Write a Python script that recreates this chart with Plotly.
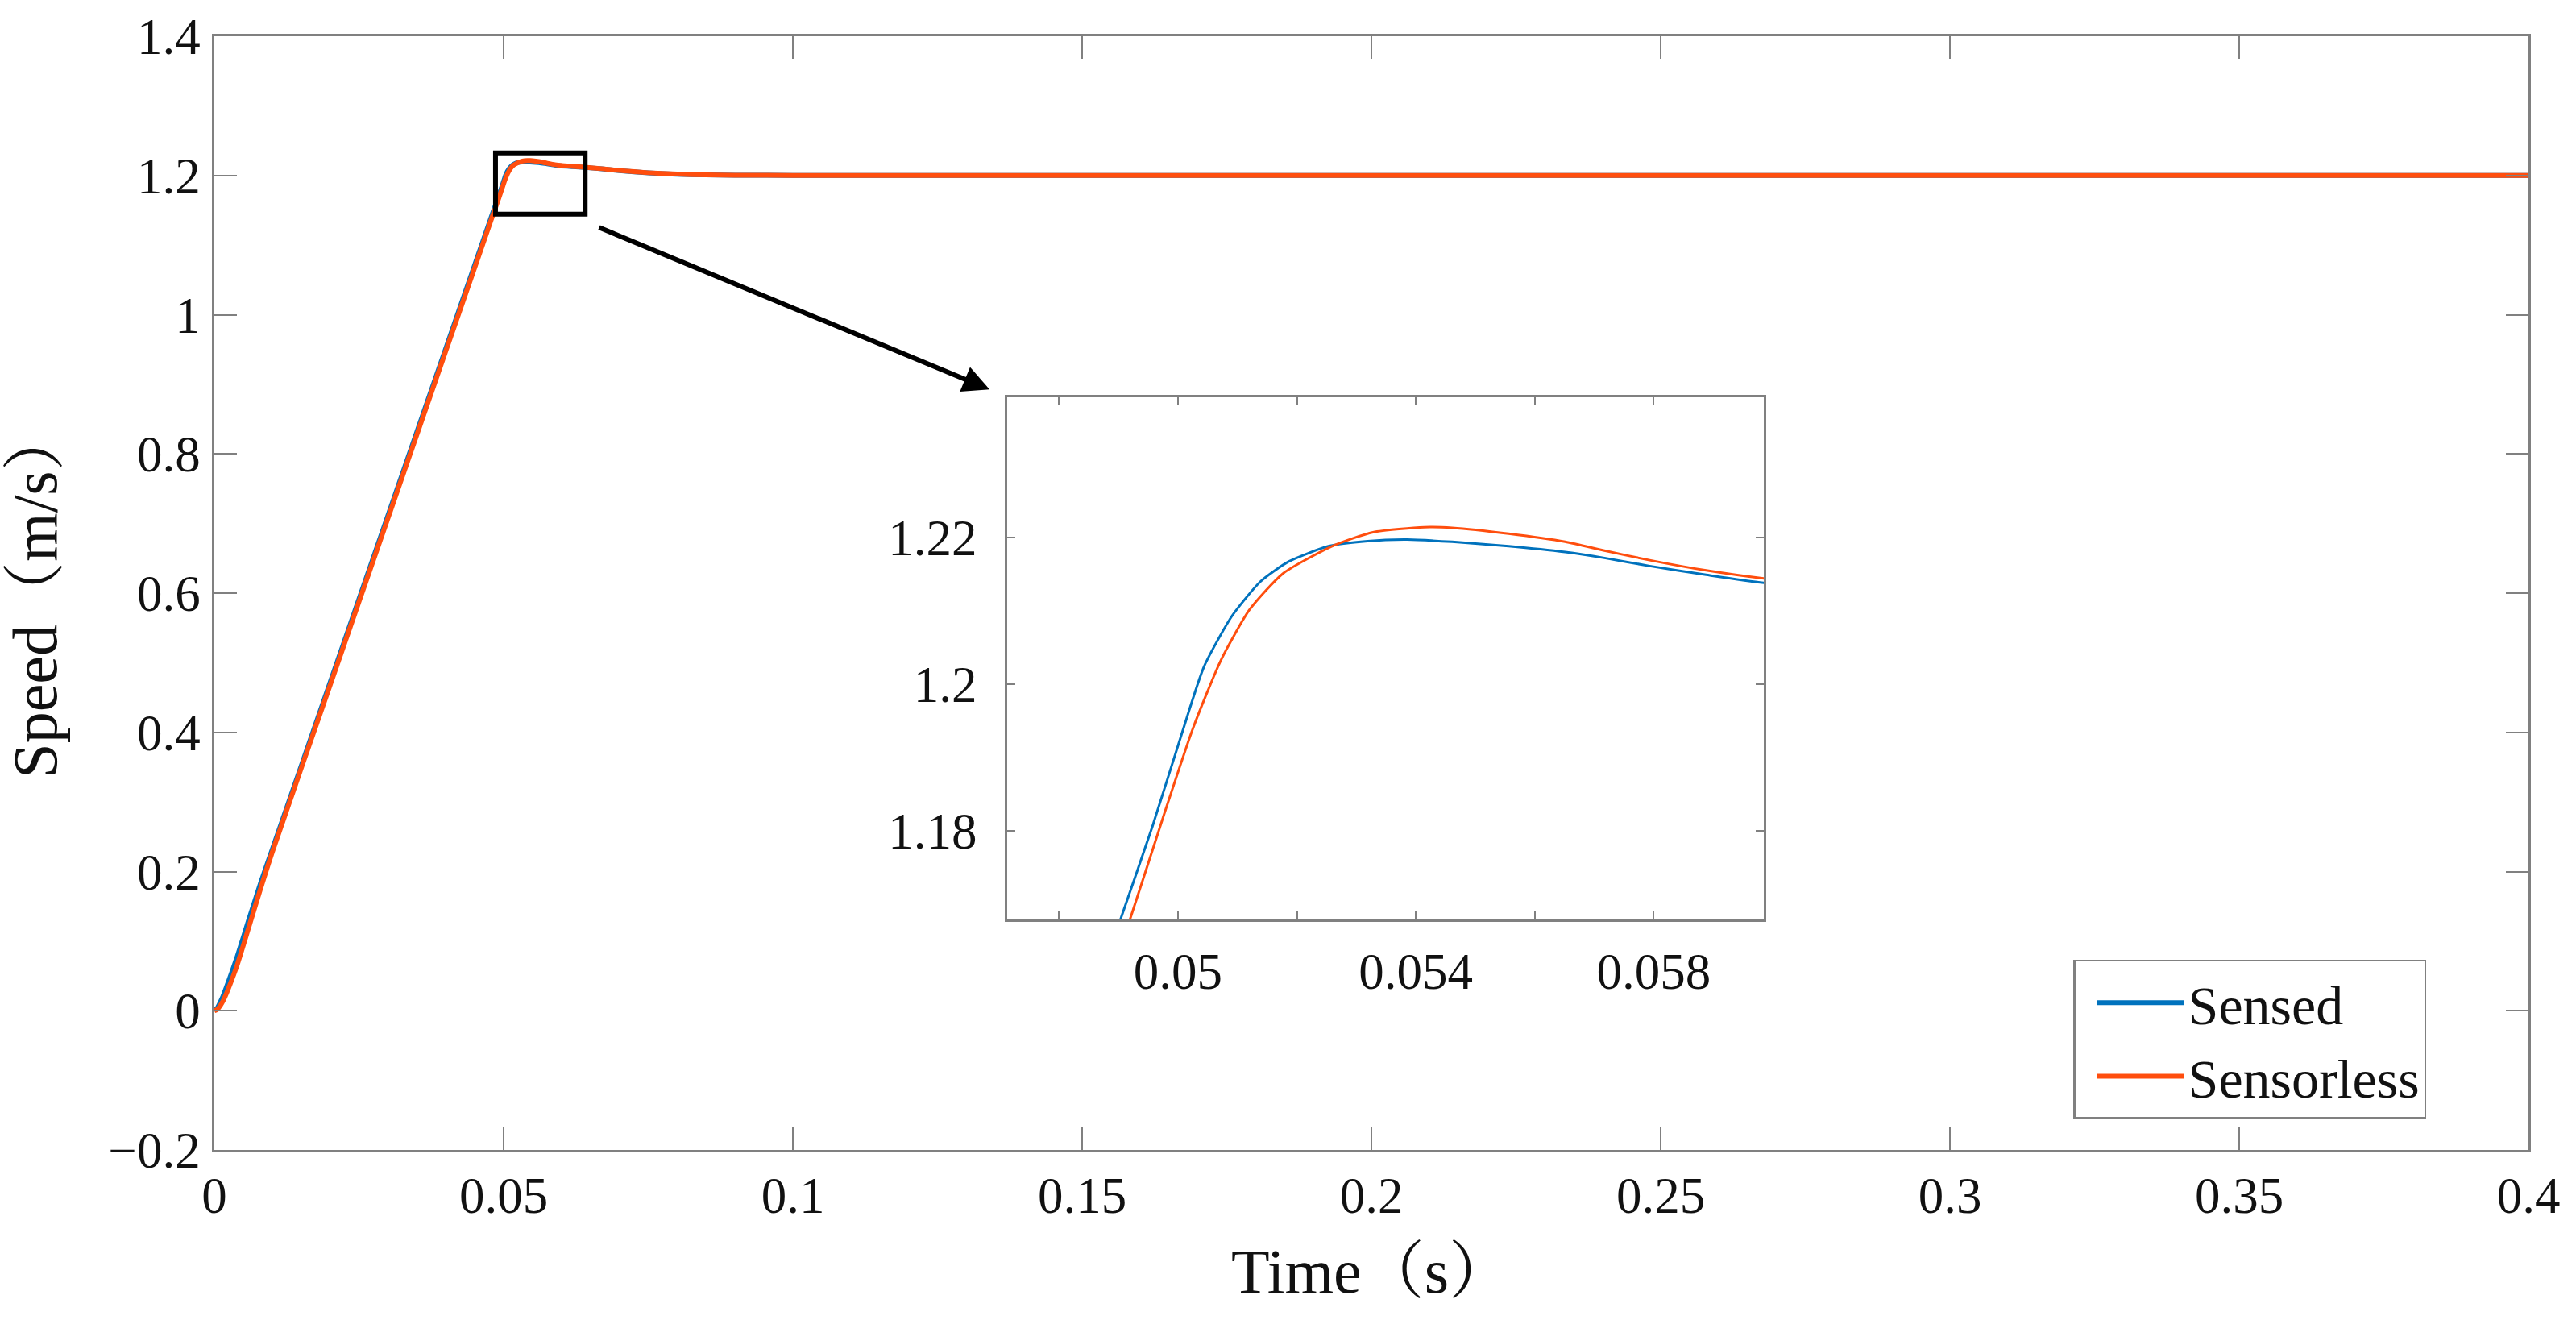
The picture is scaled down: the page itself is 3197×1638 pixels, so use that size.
import plotly.graph_objects as go

# ---------------- data ----------------
time_s = [0, 0.0005, 0.001, 0.0015, 0.002, 0.003, 0.004, 0.006, 0.008, 0.01, 0.02, 0.03, 0.04, 0.045, 0.048,
          0.04903, 0.04958, 0.05006, 0.05044, 0.05091, 0.05139, 0.05186, 0.05253, 0.05319, 0.05385,
          0.05461, 0.05556, 0.05651, 0.05717, 0.05793, 0.05888, 0.05986,
          0.062, 0.064, 0.067, 0.07, 0.075, 0.08, 0.085, 0.09, 0.1, 0.15, 0.2, 0.25, 0.3, 0.35, 0.4]
sensed = [0, 0.004, 0.012, 0.021, 0.032, 0.055, 0.079, 0.132, 0.1835, 0.2315, 0.4715, 0.7115, 0.9515, 1.0715, 1.1435,
          1.1678, 1.1808, 1.1931, 1.2024, 1.2093, 1.2140, 1.2167, 1.2188, 1.2195, 1.2197,
          1.2194, 1.2188, 1.2180, 1.2172, 1.2161, 1.2149, 1.2138,
          1.2126, 1.2116, 1.2095, 1.2070, 1.2038, 1.2018, 1.2008, 1.2003, 1.2001, 1.2, 1.2, 1.2, 1.2, 1.2, 1.2]

time_s2 = [0, 0.0005, 0.001, 0.0015, 0.002, 0.003, 0.004, 0.006, 0.008, 0.01, 0.02, 0.03, 0.04, 0.045, 0.048,
           0.04919, 0.04977, 0.05025, 0.05072, 0.05120, 0.05177, 0.05262, 0.05328, 0.05414,
           0.05461, 0.05556, 0.05651, 0.05717, 0.05793, 0.05888, 0.05986,
           0.062, 0.064, 0.067, 0.07, 0.075, 0.08, 0.085, 0.09, 0.1, 0.15, 0.2, 0.25, 0.3, 0.35, 0.4]
sensorless = [0, 0.002, 0.007, 0.014, 0.023, 0.044, 0.067, 0.121, 0.1755, 0.2275, 0.4675, 0.7075, 0.9475, 1.0675, 1.1397,
              1.1678, 1.1823, 1.1939, 1.2032, 1.2101, 1.2151, 1.2189, 1.2207, 1.2214,
              1.2213, 1.2205, 1.2194, 1.2182, 1.2169, 1.2155, 1.2144,
              1.2130, 1.2118, 1.2097, 1.2071, 1.2039, 1.2019, 1.2008, 1.2003, 1.2001, 1.2, 1.2, 1.2, 1.2, 1.2, 1.2]

series_names = ["Sensed", "Sensorless"]
series_colors = ["#0072BD", "#FF4E0E"]

x_tickvals = [0, 0.05, 0.1, 0.15, 0.2, 0.25, 0.3, 0.35, 0.4]
x_ticktext = ["0", "0.05", "0.1", "0.15", "0.2", "0.25", "0.3", "0.35", "0.4"]
y_tickvals = [-0.2, 0, 0.2, 0.4, 0.6, 0.8, 1.0, 1.2, 1.4]
y_ticktext = ["\u22120.2", "0", "0.2", "0.4", "0.6", "0.8", "1", "1.2", "1.4"]

inset_x_tickvals = [0.048, 0.050, 0.052, 0.054, 0.056, 0.058]
inset_x_ticktext = ["", "0.05", "", "0.054", "", "0.058"]
inset_y_tickvals = [1.18, 1.20, 1.22]
inset_y_ticktext = ["1.18", "1.2", "1.22"]

x_title = "Time\uff08s\uff09"
y_title = "Speed\uff08m/s\uff09"

main_xrange = [0, 0.4]
main_yrange = [-0.2, 1.4]
inset_xrange = [0.04713, 0.05985]
inset_yrange = [1.1679, 1.2391]
zoom_box = [0.0486, 0.0641, 1.1445, 1.2324]   # x0, x1, y0, y1
arrow_from = [0.0663, 1.126]
arrow_to = [0.1340, 0.8925]

# ---------------- figure ----------------
FONT = "Liberation Serif, 'Times New Roman', 'Noto Serif CJK SC', 'Noto Sans CJK SC', serif"
AX = "#808080"

fig = go.Figure()
xs = [time_s, time_s2]
ys = [sensed, sensorless]
for i in range(2):
    fig.add_trace(go.Scatter(x=xs[i], y=ys[i], mode="lines", name=series_names[i],
                             line=dict(color=series_colors[i], width=6, shape="spline", smoothing=0.6),
                             xaxis="x", yaxis="y", showlegend=True))
for i in range(2):
    fig.add_trace(go.Scatter(x=xs[i], y=ys[i], mode="lines", name=series_names[i],
                             line=dict(color=series_colors[i], width=3, shape="spline", smoothing=0.6),
                             xaxis="x2", yaxis="y2", showlegend=False))

axis_common = dict(showline=True, linecolor=AX, linewidth=2.5, mirror="ticks", ticks="inside",
                   tickcolor=AX, tickwidth=2, showgrid=False, zeroline=False,
                   tickfont=dict(family=FONT, size=63, color="#111111"))

fig.update_layout(
    width=3197, height=1638,
    margin=dict(l=266, r=59, t=45, b=211),
    paper_bgcolor="white", plot_bgcolor="white",
    font=dict(family=FONT, color="#111111"),
    xaxis=dict(range=main_xrange, tickvals=x_tickvals, ticktext=x_ticktext, ticklen=28,
               ticklabelstandoff=0, domain=[0, 1],
               title=dict(text=x_title, font=dict(family=FONT, size=78), standoff=32),
               **axis_common),
    yaxis=dict(range=main_yrange, tickvals=y_tickvals, ticktext=y_ticktext, ticklen=28,
               ticklabelstandoff=2, domain=[0, 1],
               title=dict(text=y_title, font=dict(family=FONT, size=78), standoff=42),
               **axis_common),
    xaxis2=dict(range=inset_xrange, tickvals=inset_x_tickvals, ticktext=inset_x_ticktext, ticklen=10,
                ticklabelstandoff=8, domain=[0.3426, 0.6696], anchor="y2", **axis_common),
    yaxis2=dict(range=inset_yrange, tickvals=inset_y_tickvals, ticktext=inset_y_ticktext, ticklen=10,
                ticklabelstandoff=22, domain=[0.2069, 0.6758], anchor="x2", **axis_common),
    legend=dict(x=0.8033, y=0.1708, xanchor="left", yanchor="top",
                bgcolor="white", bordercolor=AX, borderwidth=2.5,
                font=dict(family=FONT, size=68, color="#111111"),
                itemwidth=108, tracegroupgap=0, indentation=22),
    showlegend=True,
)

fig.add_shape(type="rect", xref="x", yref="y", x0=zoom_box[0], x1=zoom_box[1], y0=zoom_box[2], y1=zoom_box[3],
              line=dict(color="black", width=6), fillcolor="rgba(0,0,0,0)")

fig.add_annotation(x=arrow_to[0], y=arrow_to[1], ax=arrow_from[0], ay=arrow_from[1],
                   xref="x", yref="y", axref="x", ayref="y", text="", showarrow=True,
                   arrowhead=2, arrowsize=1.1, arrowwidth=6, arrowcolor="black")

fig.write_html("out.html")
